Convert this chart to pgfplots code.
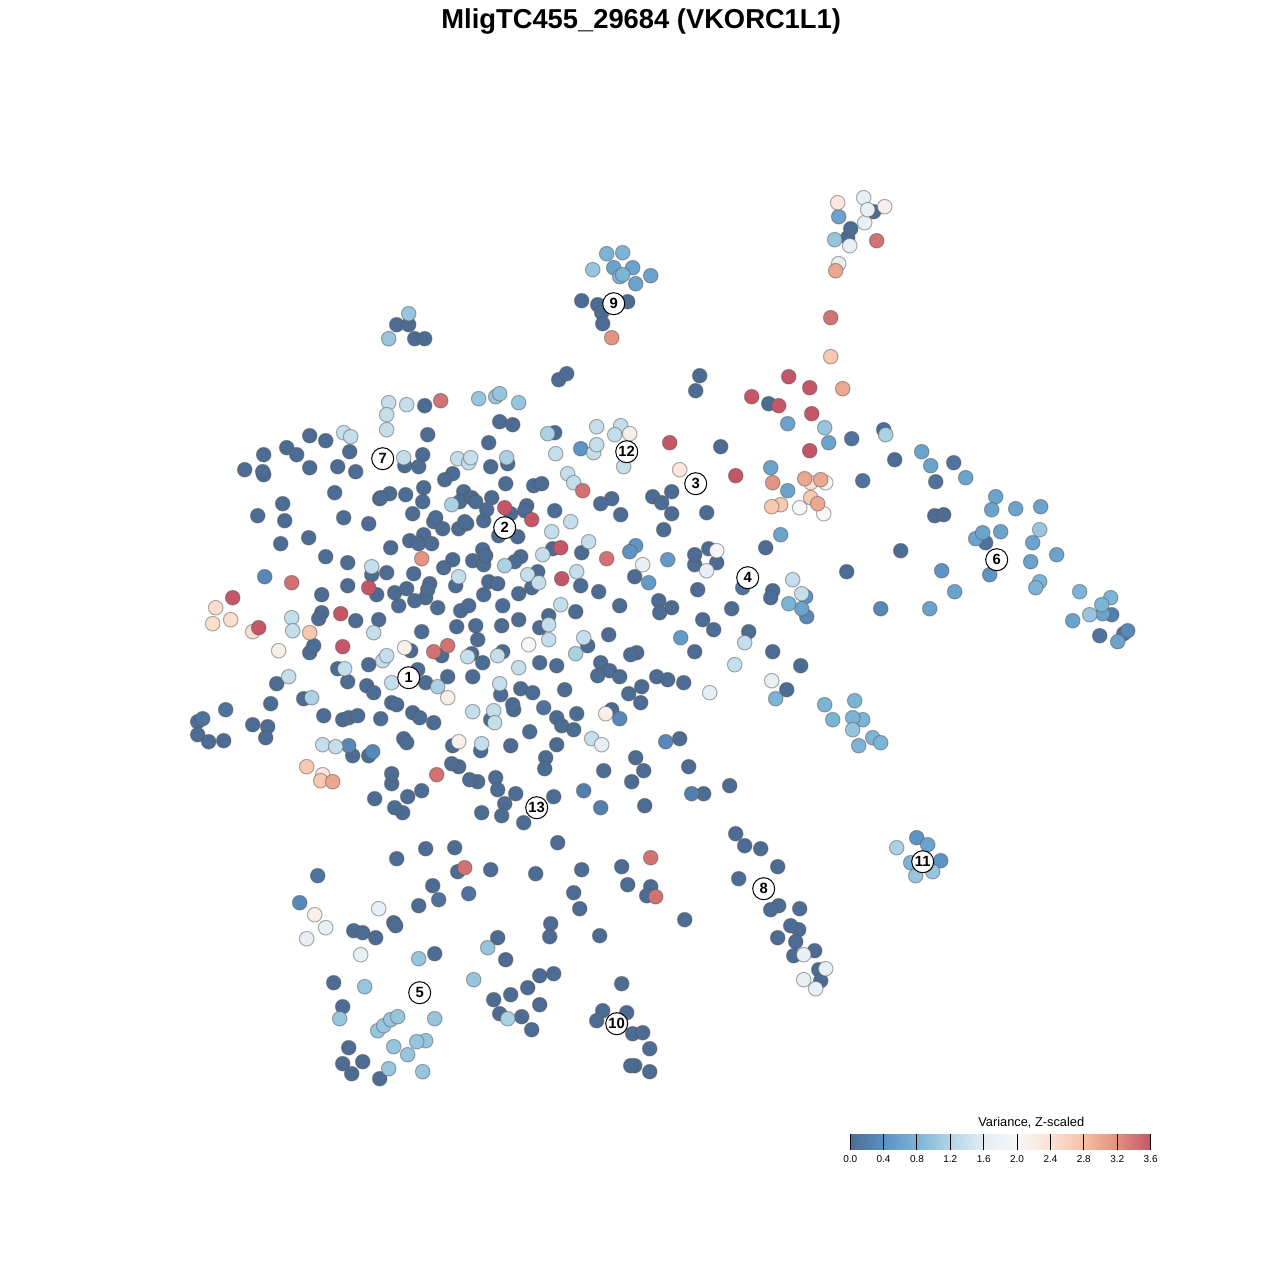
\documentclass[border=0pt]{standalone}
\usepackage{fontspec}
\setmainfont{Liberation Sans}
\usepackage{pgfplots}
\pgfplotsset{compat=1.18}

% colour scale, one stop every 0.4 from 0.0 to 3.6
\pgfplotsset{
  colormap={vark}{
    rgb255=(76,108,148) rgb255=(92,145,196) rgb255=(124,180,214)
    rgb255=(178,213,230) rgb255=(227,237,244) rgb255=(247,247,247)
    rgb255=(253,226,212) rgb255=(246,192,165) rgb255=(226,143,124)
    rgb255=(196,86,104)
  },
  pt/.style={scatter, only marks, mark=*, mark size=3.65pt, point meta={#1},
    scatter/use mapped color={draw=black!65, fill=mapped color},
    mark options={line width=0.5pt, draw opacity=0.5}},
}

\begin{document}
\begin{tikzpicture}
\path[use as bounding box] (0,0) rectangle (640pt,640pt);
\begin{axis}[
    at={(320pt,320pt)}, anchor=center,
    scale only axis, width=640pt, height=640pt,
    xmin=-0.7, xmax=1279.3, ymin=-0.7, ymax=1279.3, y dir=reverse,
    hide axis, clip=false,
    point meta min=0, point meta max=3.6,
]
% dark
\addplot[pt=0] coordinates {
(396,324)(408,324)(414,338)(424,338)(581,300)(597,304)(627,301)(601,312)(602,323)(558,379)(566,373)(695,390)(699,375)
(424,405)(427,434)(309,435)(325,440)(286,447)(296,454)(263,454)(349,451)(422,454)(244,469)(263,474)(262,471)(309,467)
(337,466)(355,471)(404,465)(418,466)(452,473)(444,479)(334,492)(389,493)(379,498)(380,497)(405,494)(423,487)(422,501)
(463,491)(459,501)(471,497)(475,501)(282,503)(257,515)(284,520)(343,517)(368,523)(412,513)(433,521)(435,517)(442,528)
(458,528)(466,523)(464,521)(483,520)(308,537)(280,543)(325,556)(347,562)(390,547)(423,534)(409,540)(418,543)(431,543)
(452,559)(443,567)(472,560)(482,549)(483,564)(371,574)(386,572)(413,573)(347,585)(455,585)(321,594)(376,594)(394,592)
(406,588)(429,583)(425,597)(427,589)(414,600)(398,605)(437,607)(460,610)(468,605)(483,594)(321,612)(318,618)(355,620)
(378,619)(421,631)(456,626)(475,625)(309,652)(313,645)(477,639)(410,650)(441,655)(471,653)(482,662)(368,664)(337,668)
(347,681)(417,669)(447,676)(472,676)(425,682)(366,685)(373,692)(276,683)(391,702)(396,704)(270,703)(303,698)(197,721)
(197,734)(208,741)(223,740)(252,724)(267,726)(265,737)(323,715)(342,719)(348,717)(357,715)(380,718)(412,712)(419,717)
(433,722)(403,738)(406,742)(352,755)(368,755)(452,745)(480,750)(458,766)(451,763)(477,781)(469,779)(391,783)(391,773)
(421,790)(407,796)(374,798)(402,812)(394,807)(425,848)(454,847)(396,858)(457,871)
(499,421)(512,424)(554,432)(488,442)(720,446)(490,466)(507,463)(505,483)(533,485)(541,483)(491,497)(486,509)(526,505)
(524,510)(554,510)(510,513)(611,498)(600,503)(620,514)(652,496)(671,491)(661,502)(671,513)(706,512)(663,529)(498,535)
(517,536)(485,555)(552,548)(581,552)(520,556)(514,561)(537,571)(531,587)(488,581)(497,583)(518,593)(580,585)(598,591)
(634,576)(502,605)(619,605)(575,611)(658,600)(671,607)(659,612)(697,589)(731,608)(702,619)(713,629)(501,625)(518,619)
(548,615)(539,627)(608,634)(587,645)(502,651)(539,662)(556,665)(600,662)(609,670)(597,675)(619,676)(636,652)(630,654)
(694,651)(694,564)(694,554)(708,548)(716,562)(656,676)(667,679)(683,682)(500,694)(520,688)(532,692)(564,689)(641,686)
(628,693)(640,702)(513,709)(512,704)(556,717)(576,713)(561,725)(573,729)(611,709)(490,719)(529,731)(510,745)(556,744)
(679,738)(635,757)(688,766)(545,757)(544,768)(643,770)(603,770)(631,781)(495,777)(497,789)(515,793)(553,796)(703,793)
(729,785)(504,803)(644,805)(481,812)(501,815)(523,822)(557,842)(735,833)(744,845)(760,848)(777,866)(738,878)(778,905)
(770,909)(799,908)(798,929)(790,925)(777,937)(795,941)(814,950)(793,955)(818,969)(820,980)
(772,590)(770,597)(748,631)(772,651)(800,665)(786,689)(765,547)(846,571)(900,550)(894,459)(768,403)(873,211)(847,237)
(850,228)(883,429)(934,515)(943,514)
(490,869)(535,873)(581,869)(621,866)(627,884)(650,886)(646,895)(573,892)(579,908)(684,919)(550,923)(549,936)(599,935)
(497,937)(505,959)(539,975)(553,973)(527,987)(510,994)(493,999)(539,1004)(499,1013)(521,1016)(531,1029)(621,983)
(602,1010)(626,1012)(596,1020)(632,1033)(642,1032)(649,1048)(634,1065)(630,1065)(649,1071)(353,930)(362,932)(375,937)
(393,922)(395,925)(418,905)(432,885)(434,953)(333,982)(342,1006)(348,1047)(342,1063)(362,1061)(351,1073)(379,1078)
};
\addplot[pt=0.08] coordinates {
(202,718)(225,709)(317,875)(742,587)(862,480)(851,438)(953,462)(935,481)(985,542)(1099,635)(1123,633)(438,899)(468,893)(543,707)
};
\addplot[pt=0.2] coordinates {(583,790)(691,793)(600,807)(1111,614)};
\addplot[pt=0.3] coordinates {(264,576)(348,745)(372,751)(619,718)(665,741)(299,902)(880,608)(806,616)(1127,630)};
\addplot[pt=0.42] coordinates {(916,837)(940,860)(989,574)(941,570)(580,448)(635,545)(629,551)(805,596)};
\addplot[pt=0.5] coordinates {(667,559)(648,582)(680,637)};
\addplot[pt=0.6] coordinates {
(787,423)(828,442)(770,467)(787,490)(780,534)(801,608)(921,451)(930,465)(965,477)(954,591)(929,608)(995,496)(991,509)
(1032,542)(1056,554)(1015,508)(1040,506)(1000,531)(975,538)(982,532)(1030,561)(632,267)(635,283)(613,267)(650,275)
(838,216)(927,844)(1102,613)(1117,641)(1072,620)
};
\addplot[pt=0.8] coordinates {
(606,253)(622,252)(619,276)(622,274)(788,603)(775,698)(824,704)(854,700)(832,719)(862,719)(852,717)(872,737)(880,742)
(858,745)(1039,581)(1035,587)(1079,591)(1110,597)(1101,604)(910,862)
};
\addplot[pt=1.0] coordinates {
(408,313)(388,338)(592,269)(478,398)(495,396)(499,393)(518,402)(834,239)(824,427)(1039,529)(1089,614)(852,729)(915,875)
(932,871)(418,958)(487,947)(473,979)(364,986)(339,1018)(377,1030)(383,1025)(390,1019)(397,1016)(434,1018)(393,1046)
(425,1040)(416,1041)(407,1054)(388,1068)(422,1071)
};
\addplot[pt=1.15] coordinates {(896,847)(507,1018)(547,433)(506,457)(451,504)(311,697)(504,565)(885,434)(575,653)(437,686)};
\addplot[pt=1.35] coordinates {
(388,402)(406,404)(386,414)(386,429)(343,432)(350,436)(403,457)(457,458)(468,462)(470,457)(596,426)(620,425)(614,434)
(593,452)(596,444)(555,453)(623,466)(567,473)(573,482)(570,521)(551,531)(588,541)(542,554)(527,574)(538,582)(576,571)
(458,576)(371,566)(291,617)(292,630)(373,632)(382,660)(386,655)(467,656)(497,655)(344,668)(288,676)(560,604)(548,624)
(548,639)(583,637)(518,667)(734,664)(744,642)(499,683)(472,711)(493,710)(494,722)(481,743)(322,744)(335,746)(591,738)
(792,579)(801,593)(391,682)
};
\addplot[pt=1.7] coordinates {
(642,564)(706,570)(601,744)(709,692)(771,680)(863,197)(864,222)(867,209)(849,245)(838,263)(306,938)(325,927)(378,908)
(360,954)(803,954)(825,968)(803,979)(815,988)
};
\addplot[pt=2.0] coordinates {(716,550)(528,644)(799,507)(823,513)(825,482)};
\addplot[pt=2.15] coordinates {(629,433)(278,650)(404,647)(447,697)(605,713)(458,741)(884,206)(314,914)};
\addplot[pt=2.3] coordinates {(679,469)(837,202)(322,774)};
\addplot[pt=2.45] coordinates {(215,607)(212,623)(230,619)(252,631)(810,482)};
\addplot[pt=2.7] coordinates {(306,766)(320,780)(780,504)(771,506)(810,497)(309,632)(830,356)};
\addplot[pt=3.0] coordinates {(332,781)(842,388)(804,478)(820,479)(817,503)(835,270)};
\addplot[pt=3.15] coordinates {(421,558)(772,482)(611,337)};
\addplot[pt=3.4] coordinates {
(291,582)(440,400)(582,490)(606,558)(433,651)(447,645)(436,774)(464,867)(650,857)(655,896)(876,240)(830,317)
};
\addplot[pt=3.6] coordinates {
(669,442)(735,475)(504,507)(531,519)(560,547)(561,578)(368,587)(232,597)(340,613)(258,627)(342,646)(788,376)(809,387)
(751,396)(778,405)(811,413)(809,450)
};
% cluster numbers
\addplot[only marks, mark=none, point meta=explicit symbolic, nodes near coords,
    nodes near coords style={anchor=center, circle, draw=black, fill=white, line width=0.5pt,
      minimum size=11pt, inner sep=0pt, font=\fontsize{7.4}{7.4}\selectfont\bfseries}]
  coordinates {(408,677)[1] (504,527)[2] (695,483)[3] (747,577)[4] (419,992)[5] (996,559)[6] (382,458)[7]
    (763,888)[8] (613,303)[9] (616,1023)[10] (922,861)[11] (626,451)[12] (536,807)[13]};
\node[font=\fontsize{13.67}{14}\selectfont\bfseries] at (axis cs:640.5,20.5) {MligTC455\_29684 (VKORC1L1)};
\end{axis}
% colour bar
\begin{axis}[
    at={(425.1pt,65pt)}, anchor=south west,
    scale only axis, width=150.2pt, height=8pt,
    xmin=0, xmax=3.6, ymin=0, ymax=1,
    point meta min=0, point meta max=3.6,
    axis on top,
    axis x line*=bottom, axis y line=none, axis line style={draw=none},
    xtick={0,0.4,0.8,1.2,1.6,2.0,2.4,2.8,3.2,3.6},
    tick align=inside, major tick length=8pt, xtick pos=lower,
    tick style={black, line width=0.5pt},
    xticklabel style={font=\fontsize{5}{6}\selectfont, /pgf/number format/.cd, fixed, fixed zerofill, precision=1, assume math mode=true},
    tick label style={yshift=0.7pt},
    clip=false,
]
\addplot[surf, shader=interp, mesh/cols=10, point meta=explicit] table[meta=c] {
x y c
0.0 0 0.0
0.4 0 0.4
0.8 0 0.8
1.2 0 1.2
1.6 0 1.6
2.0 0 2.0
2.4 0 2.4
2.8 0 2.8
3.2 0 3.2
3.6 0 3.6
0.0 1 0.0
0.4 1 0.4
0.8 1 0.8
1.2 1 1.2
1.6 1 1.6
2.0 1 2.0
2.4 1 2.4
2.8 1 2.8
3.2 1 3.2
3.6 1 3.6
};
\node[font=\fontsize{6.4}{7}\selectfont] at (axis cs:2.17,1.7) {Variance, Z-scaled};
\end{axis}
\end{tikzpicture}
\end{document}
